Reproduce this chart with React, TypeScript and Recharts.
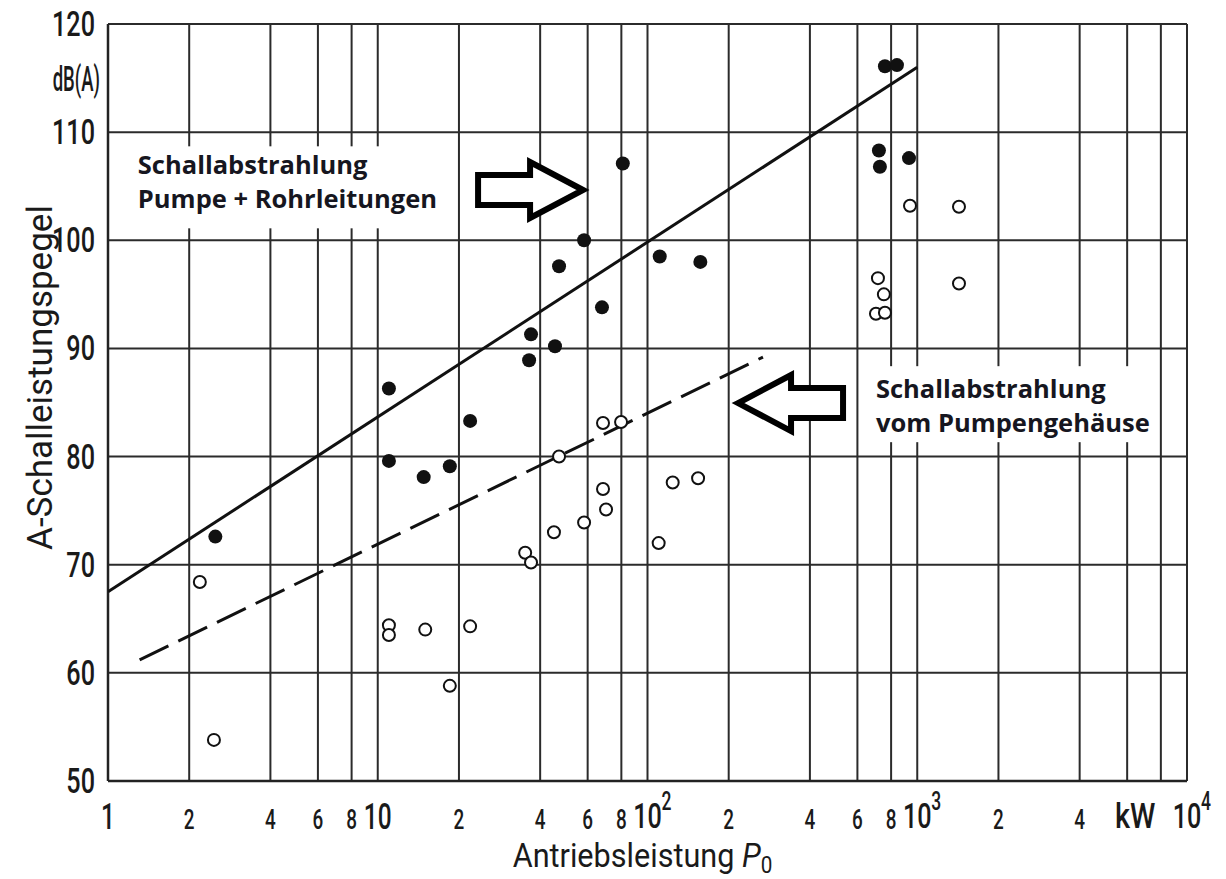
import { ScatterChart, Scatter, XAxis, YAxis, CartesianGrid, ReferenceDot, ReferenceLine } from 'recharts';

// Pumpe + Rohrleitungen (gefuellte Kreise): Antriebsleistung in kW, Pegel in dB(A)
const filledP = [2.5, 11, 11, 14.8, 18.5, 22, 36.4, 37, 45.4, 47, 58.2, 67.8, 81, 111, 157, 721, 727, 759, 841, 932];
const filledL = [72.6, 86.3, 79.6, 78.1, 79.1, 83.3, 88.9, 91.3, 90.2, 97.6, 100.0, 93.8, 107.1, 98.5, 98.0, 108.3, 106.8, 116.1, 116.2, 107.6];

// Pumpengehaeuse (offene Kreise)
const openP = [2.19, 2.47, 11, 11, 15, 18.5, 22, 35.2, 37, 45, 47, 58.2, 68.4, 70.2, 68.4, 79.8, 110, 124, 154, 703, 759, 752, 715, 940, 1428, 1428];
const openL = [68.4, 53.8, 64.4, 63.5, 64.0, 58.8, 64.3, 71.1, 70.2, 73.0, 80.0, 73.9, 77.0, 75.1, 83.1, 83.2, 72.0, 77.6, 78.0, 93.2, 93.3, 95.0, 96.5, 103.2, 103.1, 96.0];

// Ausgleichsgeraden
const solidP = [1, 1000];
const solidL = [67.5, 116.0];
const dashedP = [1.31, 268];
const dashedL = [61.2, 89.2];

const xTicks = [1, 2, 4, 6, 8, 10, 20, 40, 60, 80, 100, 200, 400, 600, 800, 1000, 2000, 4000, 6000, 8000, 10000];
const xTickLabels = ['1', '2', '4', '6', '8', '10', '2', '4', '6', '8', '10^2', '2', '4', '6', '8', '10^3', '2', '4', 'kW', '', '10^4'];
const yTicks = [50, 60, 70, 80, 90, 100, 110, 120];

const toPoints = (xs: number[], ys: number[]) => xs.map((x, i) => ({ x, y: ys[i] }));

const FONT = 'Roboto, "DejaVu Sans", sans-serif';
const NOTE_FONT = '"Open Sans", Lato, sans-serif';
const INK = '#1a1a1a';
const GRID = '#2b2b2b';

// schmal gestellte Schrift (Normschrift-Ersatz)
function CText({ x, y, size, sx = 0.7, anchor = 'middle', children }: any) {
  return (
    <text transform={`translate(${x},${y}) scale(${sx},1)`} x={0} y={0} fontSize={size} fontWeight={500} textAnchor={anchor} fill={INK} fontFamily={FONT}>
      {children}
    </text>
  );
}

function XTick(props: any) {
  const { x, y, payload } = props;
  const label = xTickLabels[xTicks.indexOf(payload.value)] ?? '';
  if (!label) return null;
  if (label.includes('^')) {
    const [base, exp] = label.split('^');
    return (
      <g>
        <CText x={x} y={y + 47} size={36}>{base}</CText>
        <CText x={x + 14} y={y + 29} size={25} anchor="start">{exp}</CText>
      </g>
    );
  }
  if (label === 'kW') return <CText x={x + 8} y={y + 47} size={36} sx={0.8}>{label}</CText>;
  const major = label === '1' || label === '10';
  return <CText x={x} y={y + 48} size={major ? 36 : 27} sx={major ? 0.68 : 0.7}>{label}</CText>;
}

function YTick(props: any) {
  const { x, y, payload } = props;
  return (
    <g>
      <CText x={x - 13} y={y + 12} size={36} sx={0.7} anchor="end">{payload.value}</CText>
      {payload.value === 120 && <CText x={x - 8} y={y + 67} size={35} sx={0.53} anchor="end">dB(A)</CText>}
    </g>
  );
}

const EmptyShape = () => <g />;

function Arrow({ cx, cy, dir }: { cx: number; cy: number; dir: number }) {
  // Blockpfeil, Spitze bei (cx, cy)
  const pts = [
    [0, 0], [-53, -28], [-53, -15], [-105, -15], [-105, 15], [-53, 15], [-53, 28],
  ].map(([px, py]) => `${cx + px * dir},${cy + py}`).join(' ');
  return <polygon points={pts} fill="#fff" stroke="#000" strokeWidth={6} strokeLinejoin="miter" />;
}

function Note({ cx, cy, lines, w, top, h }: { cx: number; cy: number; lines: string[]; w: number; top: number; h: number }) {
  return (
    <g>
      <rect x={cx - 10} y={cy + top} width={w} height={h} fill="#fff" />
      {lines.map((t, i) => (
        <text key={i} x={cx} y={cy + i * 34} fontFamily={NOTE_FONT} fontWeight={700} fontSize={25.5} fill="#161620">
          {t}
        </text>
      ))}
    </g>
  );
}

export default function App() {
  return (
    <div style={{ position: 'absolute', left: 0, top: 0, background: '#fff' }}>
      <ScatterChart width={1226} height={879} margin={{ top: 24, right: 39, bottom: 0, left: 0 }}>
        <CartesianGrid stroke={GRID} strokeWidth={2} vertical={false} />
        <XAxis
          type="number"
          dataKey="x"
          scale="log"
          domain={[1, 10000]}
          ticks={xTicks}
          interval={0}
          allowDataOverflow
          height={98}
          tickLine={false}
          tickSize={0}
          tickMargin={0}
          tick={<XTick />}
          axisLine={{ stroke: '#222', strokeWidth: 2.5 }}
          label={{
            content: (p: any) => {
              const vb = p.viewBox;
              const cx = vb.x + vb.width / 2 - 5;
              const cy = vb.y + 86;
              return (
                <text transform={`translate(${cx},${cy}) scale(0.9,1)`} x={0} y={0} textAnchor="middle" fontSize={34} fill={INK} fontFamily={FONT}>
                  <tspan>Antriebsleistung </tspan>
                  <tspan fontStyle="italic">P</tspan>
                  <tspan dy={6} fontSize={23}>0</tspan>
                </text>
              );
            },
          }}
        />
        <YAxis
          type="number"
          dataKey="y"
          domain={[50, 120]}
          ticks={yTicks}
          interval={0}
          allowDataOverflow
          width={108}
          tickLine={false}
          tickSize={0}
          tickMargin={0}
          tick={<YTick />}
          axisLine={{ stroke: '#222', strokeWidth: 2.5 }}
          label={{
            content: (p: any) => {
              const vb = p.viewBox;
              const cx = vb.x + 40;
              const cy = vb.y + vb.height / 2 - 25;
              return (
                <text x={cx} y={cy} transform={`rotate(-90 ${cx} ${cy})`} textAnchor="middle" dominantBaseline="central" fontSize={35} fill={INK} fontFamily={FONT}>
                  A-Schalleistungspegel
                </text>
              );
            },
          }}
        />

        {/* logarithmisches Raster: 1, 2, 4, 6, 8 je Dekade */}
        {xTicks.map((v) => (
          <ReferenceLine key={v} x={v} stroke={GRID} strokeWidth={2} />
        ))}

        <ReferenceDot x={1.29} y={106.1} ifOverflow="visible"
          shape={(p: any) => <Note cx={p.cx} cy={p.cy} lines={['Schallabstrahlung', 'Pumpe + Rohrleitungen']} w={318} top={-28} h={82} />} />
        <ReferenceDot x={703} y={85.4} ifOverflow="visible"
          shape={(p: any) => <Note cx={p.cx} cy={p.cy} lines={['Schallabstrahlung', 'vom Pumpengehäuse']} w={292} top={-32} h={76} />} />
        <ReferenceDot x={57.7} y={104.65} ifOverflow="visible" shape={(p: any) => <Arrow cx={p.cx} cy={p.cy} dir={1} />} />
        <ReferenceDot x={216.6} y={84.95} ifOverflow="visible" shape={(p: any) => <Arrow cx={p.cx} cy={p.cy} dir={-1} />} />

        <Scatter data={toPoints(solidP, solidL)} line={{ stroke: '#111', strokeWidth: 3 }} shape={EmptyShape} isAnimationActive={false} />
        <Scatter data={toPoints(dashedP, dashedL)} line={{ stroke: '#111', strokeWidth: 3, strokeDasharray: '32 11' }} shape={EmptyShape} isAnimationActive={false} />
        <Scatter
          data={toPoints(openP, openL)}
          isAnimationActive={false}
          shape={(p: any) => <circle cx={p.cx} cy={p.cy} r={6} fill="#fff" stroke="#111" strokeWidth={2} />}
        />
        <Scatter
          data={toPoints(filledP, filledL)}
          isAnimationActive={false}
          shape={(p: any) => <circle cx={p.cx} cy={p.cy} r={7} fill="#111" />}
        />
      </ScatterChart>
    </div>
  );
}
